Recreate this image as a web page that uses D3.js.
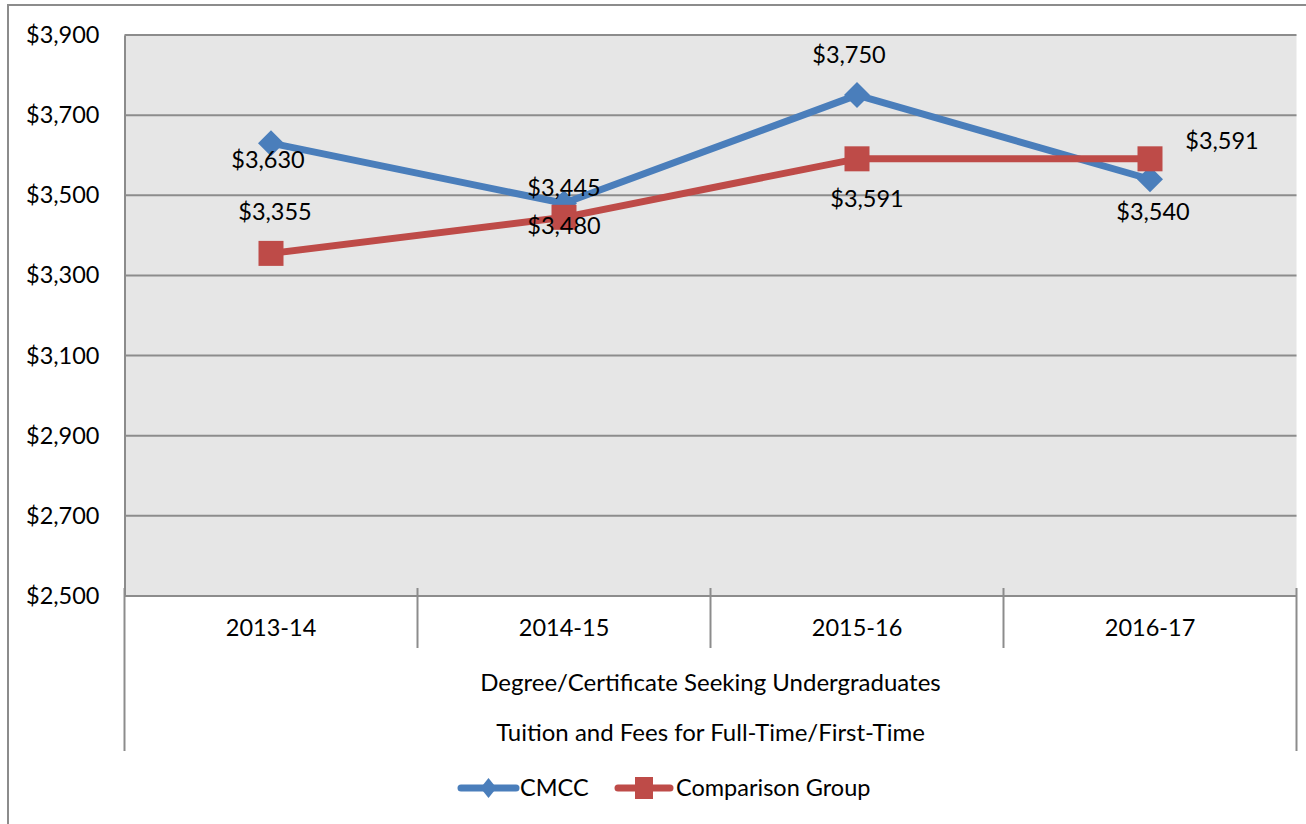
<!DOCTYPE html>
<html>
<head>
<meta charset="utf-8">
<script src="https://cdn.jsdelivr.net/npm/d3@7"></script>
<style>
  html, body { margin: 0; padding: 0; background: #fff; }
  svg { display: block; }
  text { font-family: Lato, "Open Sans", sans-serif; fill: #000; }
</style>
</head>
<body>
<svg id="chart" width="1306" height="824"></svg>
<script>
// ---- data ----
const categories = ["2013-14", "2014-15", "2015-16", "2016-17"];
const cmccValues = [3630, 3480, 3750, 3540];
const comparisonValues = [3355, 3445, 3591, 3591];
const yTicks = [2500, 2700, 2900, 3100, 3300, 3500, 3700, 3900];
const axisTitleLines = ["Degree/Certificate Seeking Undergraduates", "Tuition and Fees for Full-Time/First-Time"];
const seriesNames = ["CMCC", "Comparison Group"];

// label placement (layout, not data): [dx, dy] relative to point
const cmccLabelOffsets = [[-3, 17], [0, 22], [-8, -40], [3, 33]];
const compLabelOffsets = [[4, -42], [0, -30], [10, 40], [72, -18]];

const W = 1306, H = 824;
const plot = { left: 124.5, right: 1296.5, top: 35, bottom: 596 };
const blue = "#4a7ebb", red = "#be4b48";
const fontSize = 23.5;
const fontFam = "Lato, 'Open Sans', sans-serif";

const svg = d3.select("#chart");

// outer border
svg.append("rect").attr("x", 8).attr("y", 5).attr("width", W - 8 + 10).attr("height", H)
  .attr("fill", "#fff").attr("stroke", "#8c8c8c").attr("stroke-width", 2);

const x = d3.scaleBand().domain(categories).range([plot.left, plot.right]).padding(0);
const y = d3.scaleLinear().domain([2500, 3900]).range([plot.bottom, plot.top]);

// plot background
svg.append("rect").attr("x", plot.left).attr("y", plot.top)
  .attr("width", plot.right - plot.left).attr("height", plot.bottom - plot.top)
  .attr("fill", "#e6e6e6");

// gridlines
svg.append("g").selectAll("line").data(yTicks).join("line")
  .attr("x1", plot.left).attr("x2", plot.right)
  .attr("y1", d => y(d)).attr("y2", d => y(d))
  .attr("stroke", "#8c8c8c").attr("stroke-width", 2);

// y axis
const yAxis = svg.append("g").attr("transform", `translate(${plot.left},0)`)
  .call(d3.axisLeft(y).tickValues(yTicks).tickSize(0).tickPadding(25)
    .tickFormat(d => "$" + d3.format(",")(d)));
yAxis.select(".domain").attr("stroke", "#8c8c8c").attr("stroke-width", 2);
yAxis.selectAll("text").style("font-size", fontSize + "px").style("font-family", fontFam).attr("fill", "#000");

// x axis
const xAxis = svg.append("g").attr("transform", `translate(0,${plot.bottom})`)
  .call(d3.axisBottom(x).tickSize(0).tickPadding(23));
xAxis.select(".domain").remove();
xAxis.selectAll("text").style("font-size", fontSize + "px").style("font-family", fontFam).attr("fill", "#000");
svg.append("line").attr("x1", plot.left).attr("x2", plot.right)
  .attr("y1", plot.bottom).attr("y2", plot.bottom)
  .attr("stroke", "#8c8c8c").attr("stroke-width", 2);

// category separators
const bounds = categories.map(c => x(c)).concat([x(categories[categories.length - 1]) + x.bandwidth()]);
svg.append("g").selectAll("line").data(bounds).join("line")
  .attr("x1", d => d).attr("x2", d => d)
  .attr("y1", plot.bottom - 8)
  .attr("y2", (d, i) => (i === 0 || i === bounds.length - 1) ? 751 : 648)
  .attr("stroke", "#8c8c8c").attr("stroke-width", 2);

// multi-level axis title lines
const cx = (plot.left + plot.right) / 2;
svg.append("g").selectAll("text").data(axisTitleLines).join("text")
  .attr("x", cx).attr("y", (d, i) => 683 + i * 50)
  .attr("text-anchor", "middle").attr("dy", "0.35em")
  .style("font-size", (fontSize + 0.5) + "px").text(d => d);

function diamondPath(hw, hh) {
  return `M0,${-hh}L${hw},0L0,${hh}L${-hw},0Z`;
}

// lines
const line = d3.line().x((d, i) => x(categories[i]) + x.bandwidth() / 2).y(d => y(d));
const seriesLayer = svg.append("g");
const labelLayer = svg.append("g");
function drawSeries(vals, color, marker, offsets) {
  seriesLayer.append("path").datum(vals).attr("d", line)
    .attr("fill", "none").attr("stroke", color).attr("stroke-width", 7)
    .attr("stroke-linejoin", "round").attr("stroke-linecap", "round");
  const g = seriesLayer.append("g");
  vals.forEach((v, i) => {
    const px = x(categories[i]) + x.bandwidth() / 2, py = y(v);
    if (marker === "diamond") {
      g.append("path").attr("d", diamondPath(13, 13))
        .attr("transform", `translate(${px},${py})`).attr("fill", color);
    } else {
      g.append("rect").attr("x", px - 12.5).attr("y", py - 12.5)
        .attr("width", 25).attr("height", 25).attr("fill", color);
    }
  });
  labelLayer.append("g").selectAll("text").data(vals).join("text")
    .attr("x", (d, i) => x(categories[i]) + x.bandwidth() / 2 + offsets[i][0])
    .attr("y", (d, i) => y(d) + offsets[i][1])
    .attr("dy", "0.35em").attr("text-anchor", "middle")
    .style("font-size", fontSize + "px")
    .text(d => "$" + d3.format(",")(d));
}
drawSeries(cmccValues, blue, "diamond", cmccLabelOffsets);
drawSeries(comparisonValues, red, "square", compLabelOffsets);

// legend
const legend = svg.append("g");
const ly = 788;
const items = [
  { name: seriesNames[0], color: blue, x0: 461, x1: 516, tx: 520, marker: "diamond" },
  { name: seriesNames[1], color: red, x0: 618, x1: 670, tx: 676, marker: "square" }
];
items.forEach(it => {
  legend.append("line").attr("x1", it.x0).attr("x2", it.x1).attr("y1", ly).attr("y2", ly)
    .attr("stroke", it.color).attr("stroke-width", 7).attr("stroke-linecap", "round");
  const mx = (it.x0 + it.x1) / 2;
  if (it.marker === "diamond") {
    legend.append("path").attr("d", diamondPath(8, 10))
      .attr("transform", `translate(${mx},${ly})`).attr("fill", it.color);
  } else {
    legend.append("rect").attr("x", mx - 9).attr("y", ly - 11).attr("width", 18).attr("height", 22).attr("fill", it.color);
  }
  legend.append("text").attr("x", it.tx).attr("y", ly).attr("dy", "0.35em")
    .style("font-size", fontSize + "px").text(it.name);
});
</script>
</body>
</html>
